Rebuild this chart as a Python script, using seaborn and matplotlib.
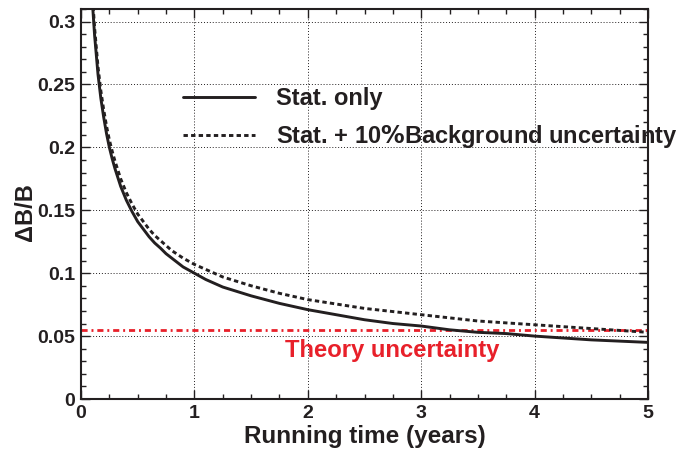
import numpy as np
import pandas as pd
import matplotlib
matplotlib.use("Agg")
import matplotlib.pyplot as plt
from matplotlib.ticker import MultipleLocator
import seaborn as sns

# ---- data ----
years = [0.10, 0.12, 0.15, 0.175, 0.20, 0.225, 0.25, 0.275, 0.30, 0.35, 0.40,
         0.45, 0.50, 0.55, 0.60, 0.65, 0.70, 0.75, 0.80, 0.90, 1.00, 1.10,
         1.25, 1.50, 1.75, 2.00, 2.25, 2.50, 2.75, 3.00, 3.25, 3.50, 3.75,
         4.00, 4.25, 4.50, 4.75, 5.00]
stat_only = [0.316, 0.289, 0.258, 0.239, 0.224, 0.211, 0.200, 0.191, 0.183,
             0.169, 0.158, 0.149, 0.141, 0.135, 0.129, 0.124, 0.120, 0.1155,
             0.112, 0.105, 0.100, 0.095, 0.089, 0.082, 0.076, 0.071, 0.067,
             0.063, 0.060, 0.058, 0.055, 0.053, 0.052, 0.050, 0.0485, 0.047,
             0.046, 0.045]
stat_bkg = [0.322, 0.295, 0.264, 0.245, 0.230, 0.217, 0.206, 0.197, 0.189,
            0.175, 0.164, 0.155, 0.147, 0.141, 0.135, 0.130, 0.126, 0.122,
            0.118, 0.112, 0.107, 0.103, 0.097, 0.090, 0.084, 0.079, 0.0755,
            0.072, 0.0695, 0.067, 0.0645, 0.062, 0.0605, 0.059, 0.0575, 0.056,
            0.0545, 0.053]
theory_uncertainty = 0.055
series_labels = ["Stat. only", "Stat. + 10$\\%$Background uncertainty"]
theory_label = "Theory uncertainty"
x_label = "Running time (years)"
y_label = "\u0394B/B"
x_ticks = [0, 1, 2, 3, 4, 5]
x_ticklabels = ["0", "1", "2", "3", "4", "5"]
y_ticks = [0, 0.05, 0.1, 0.15, 0.2, 0.25, 0.3]
y_ticklabels = ["0", "0.05", "0.1", "0.15", "0.2", "0.25", "0.3"]

INK = "#231f20"
RED = "#e8202a"

sns.set_style("ticks")
plt.rcParams["font.family"] = ["Liberation Sans", "DejaVu Sans"]
plt.rcParams["font.weight"] = "bold"
plt.rcParams["axes.labelweight"] = "bold"
plt.rcParams["text.color"] = INK
plt.rcParams["axes.labelcolor"] = INK
plt.rcParams["xtick.color"] = INK
plt.rcParams["ytick.color"] = INK

df = pd.DataFrame({
    "t": years * 2,
    "v": stat_only + stat_bkg,
    "series": [series_labels[0]] * len(years) + [series_labels[1]] * len(years),
})

fig = plt.figure(figsize=(6.83, 4.57), dpi=100)
ax = fig.add_axes([81 / 683, 1 - 399 / 457, 567 / 683, 390 / 457])

sns.lineplot(data=df, x="t", y="v", hue="series", style="series",
             palette=[INK, INK],
             dashes={series_labels[0]: "", series_labels[1]: (1.5, 1.1)},
             linewidth=2.1, ax=ax, legend=True, estimator=None, sort=False)

ax.axhline(theory_uncertainty, color=RED, linewidth=2.0,
           linestyle=(0, (2.2, 1.4, 0.7, 1.4)), zorder=1)
ax.text(285 / 683, 1 - 351 / 457, theory_label, transform=fig.transFigure,
        color=RED, fontsize=17.2, fontweight="bold", ha="left", va="center")

ax.set_xlim(0, 5)
ax.set_ylim(0, 0.31)
ax.xaxis.set_minor_locator(MultipleLocator(0.25))
ax.yaxis.set_minor_locator(MultipleLocator(0.01))
ax.set_xticks(x_ticks)
ax.set_xticklabels(x_ticklabels)
ax.set_yticks(y_ticks)
ax.set_yticklabels(y_ticklabels)

ax.tick_params(which="both", direction="in", top=True, right=True,
               labelsize=14, width=1.0, color=INK)
ax.tick_params(which="major", length=6.5, pad=4)
ax.tick_params(which="minor", length=3.6)
for s in ax.spines.values():
    s.set_linewidth(1.5)
    s.set_color(INK)

ax.grid(True, which="major", color=INK, linestyle=(0, (1, 2)), linewidth=0.7)
ax.set_axisbelow(True)

ax.set_xlabel(x_label, fontsize=17.5, fontweight="bold")
ax.xaxis.set_label_coords(0.5, -0.067)
ax.set_ylabel(y_label, fontsize=17, fontweight="bold")
ax.yaxis.set_label_coords(-0.078, 0.48)

leg = ax.legend(loc="center left", bbox_to_anchor=(0.18, 0.719),
                frameon=False, fontsize=17, handlelength=3.05,
                handletextpad=0.89, labelspacing=0.55, borderpad=0,
                borderaxespad=0)
for t in leg.get_texts():
    t.set_fontweight("bold")

fig.savefig("out.png", dpi=100)
